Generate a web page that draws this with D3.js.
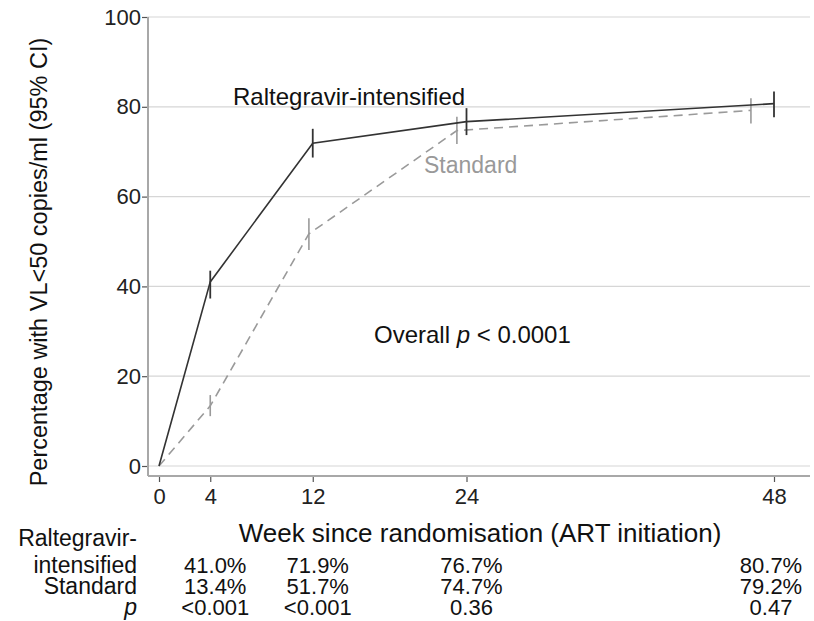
<!DOCTYPE html>
<html>
<head>
<meta charset="utf-8">
<script src="https://cdn.jsdelivr.net/npm/d3@7/dist/d3.min.js"></script>
<style>
  html, body { margin: 0; padding: 0; background: #fff; }
  svg { display: block; font-family: "Liberation Sans", Arial, sans-serif; }
</style>
</head>
<body>
<svg id="chart" width="814" height="621"></svg>
<script>
// ---- data ----
const weeks = [0, 4, 12, 24, 48];
const ralWeeks = [0, 4, 12, 24, 48];
const ralPct = [0, 41.0, 71.9, 76.7, 80.7];
const ralLo = [null, 37.3, 68.7, 73.7, 77.7];
const ralHi = [null, 43.5, 75.1, 79.7, 83.4];
const stdWeeks = [0, 4, 11.7, 23.25, 46.2];
const stdPct = [0, 13.4, 51.7, 74.7, 79.2];
const stdLo = [null, 11.1, 48.1, 71.7, 76.3];
const stdHi = [null, 15.8, 55.2, 77.8, 81.9];
const yTicks = [0, 20, 40, 60, 80, 100];
const tableWeeks = [4, 12, 24, 48];
const ralRow = ["41.0%", "71.9%", "76.7%", "80.7%"];
const stdRow = ["13.4%", "51.7%", "74.7%", "79.2%"];
const pRow = ["<0.001", "<0.001", "0.36", "0.47"];

const svg = d3.select("#chart");
const x = d3.scaleLinear().domain([0, 48]).range([159, 774]);
const y = d3.scaleLinear().domain([0, 100]).range([466, 17]);
const plotLeft = 148, plotRight = 810, axisY = 476;

// gridlines
svg.append("g").selectAll("line").data(yTicks).join("line")
  .attr("x1", plotLeft).attr("x2", plotRight)
  .attr("y1", d => y(d)).attr("y2", d => y(d))
  .attr("stroke", "#d6d6d6").attr("stroke-width", 1.2);

// y axis
const yAxis = svg.append("g").attr("transform", `translate(${plotLeft},0)`)
  .call(d3.axisLeft(y).tickValues(yTicks).tickSize(6).tickPadding(1));
yAxis.select(".domain").remove();
yAxis.selectAll("line").attr("stroke", "#555").attr("stroke-width", 1.2);
yAxis.selectAll("text").attr("font-size", 22).attr("fill", "#222")
  .attr("font-family", "Liberation Sans, Arial, sans-serif");

// x axis
const xAxis = svg.append("g").attr("transform", `translate(0,${axisY})`)
  .call(d3.axisBottom(x).tickValues(weeks).tickSize(6).tickPadding(6));
xAxis.select(".domain").remove();
xAxis.selectAll("line").attr("stroke", "#555").attr("stroke-width", 1.2);
xAxis.selectAll("text").attr("font-size", 22).attr("fill", "#222")
  .attr("font-family", "Liberation Sans, Arial, sans-serif");

// axis lines
svg.append("line").attr("x1", plotLeft).attr("x2", plotLeft).attr("y1", y(100)).attr("y2", axisY)
  .attr("stroke", "#a8a8a8").attr("stroke-width", 2);
svg.append("line").attr("x1", plotLeft).attr("x2", plotRight).attr("y1", axisY).attr("y2", axisY)
  .attr("stroke", "#a8a8a8").attr("stroke-width", 2);

// series
const line = d3.line().x(d => x(d[0])).y(d => y(d[1]));
const stdData = stdWeeks.map((w, i) => [w, stdPct[i]]);
const ralData = ralWeeks.map((w, i) => [w, ralPct[i]]);

svg.append("path").datum(stdData).attr("d", line).attr("fill", "none")
  .attr("stroke", "#9a9a9a").attr("stroke-width", 1.6).attr("stroke-dasharray", "9,6");
svg.append("g").selectAll("line").data(stdWeeks.map((w, i) => i).filter(i => stdLo[i] !== null)).join("line")
  .attr("x1", i => x(stdWeeks[i])).attr("x2", i => x(stdWeeks[i]))
  .attr("y1", i => y(stdLo[i])).attr("y2", i => y(stdHi[i]))
  .attr("stroke", "#9a9a9a").attr("stroke-width", 1.6);

svg.append("path").datum(ralData).attr("d", line).attr("fill", "none")
  .attr("stroke", "#333").attr("stroke-width", 1.6);
svg.append("g").selectAll("line").data(ralWeeks.map((w, i) => i).filter(i => ralLo[i] !== null)).join("line")
  .attr("x1", i => x(ralWeeks[i])).attr("x2", i => x(ralWeeks[i]))
  .attr("y1", i => y(ralLo[i])).attr("y2", i => y(ralHi[i]))
  .attr("stroke", "#333").attr("stroke-width", 1.8);

// annotations
svg.append("text").attr("x", 233).attr("y", 105).attr("font-size", 24).attr("fill", "#111")
  .text("Raltegravir-intensified");
svg.append("text").attr("x", 424).attr("y", 173).attr("font-size", 23).attr("fill", "#999")
  .text("Standard");
const ov = svg.append("text").attr("x", 374).attr("y", 343).attr("font-size", 24).attr("fill", "#111");
ov.append("tspan").text("Overall ");
ov.append("tspan").attr("font-style", "italic").text("p");
ov.append("tspan").text(" < 0.0001");

// axis titles
svg.append("text").attr("transform", "translate(47,262) rotate(-90)")
  .attr("text-anchor", "middle").attr("font-size", 23.5).attr("fill", "#111")
  .text("Percentage with VL<50 copies/ml (95% CI)");
svg.append("text").attr("x", 480).attr("y", 542).attr("text-anchor", "middle")
  .attr("font-size", 26).attr("fill", "#111")
  .text("Week since randomisation (ART initiation)");

// table
const rowY = [566, 587, 608];
const labelX = 137;
svg.append("text").attr("x", labelX).attr("y", 546).attr("text-anchor", "end")
  .attr("font-size", 23).attr("fill", "#111").text("Raltegravir-");
const rowLabels = ["intensified", "Standard", "p"];
rowLabels.forEach((t, i) => {
  svg.append("text").attr("x", labelX).attr("y", rowY[i] + 7).attr("text-anchor", "end")
    .attr("font-size", 23).attr("fill", "#111")
    .attr("font-style", t === "p" ? "italic" : "normal").text(t);
});
[ralRow, stdRow, pRow].forEach((row, r) => {
  svg.append("g").selectAll("text").data(row).join("text")
    .attr("x", (d, i) => x(tableWeeks[i]) + (tableWeeks[i] === 48 ? -3 : 5))
    .attr("y", rowY[r] + 7).attr("text-anchor", "middle")
    .attr("font-size", 22).attr("fill", "#111").text(d => d);
});
</script>
</body>
</html>
